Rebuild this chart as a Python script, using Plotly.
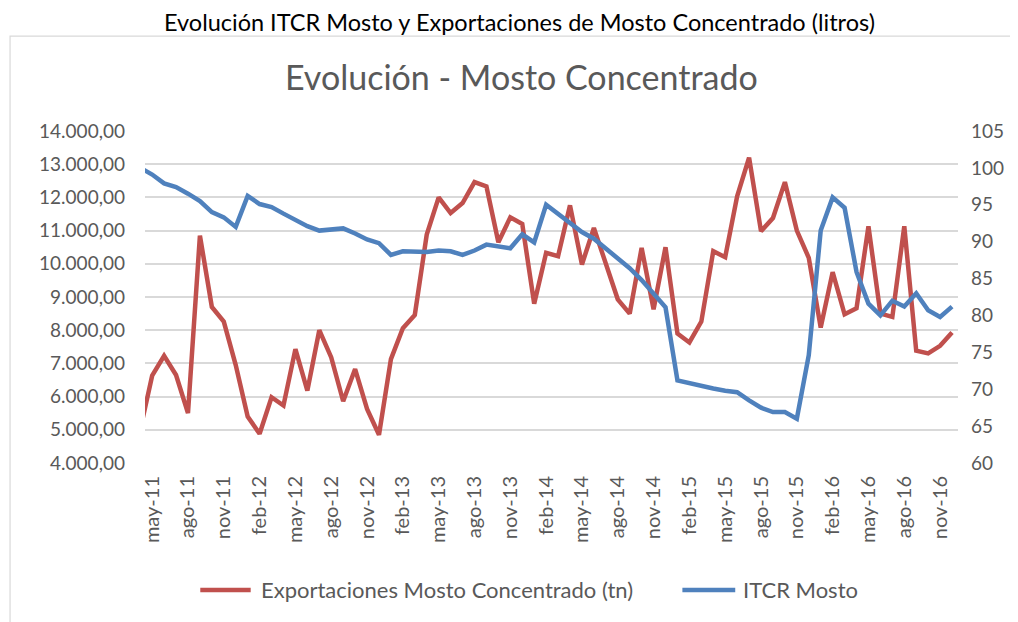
import plotly.graph_objects as go

# Meses abr-11 .. dic-16
abrev = ["ene", "feb", "mar", "abr", "may", "jun", "jul", "ago", "sep", "oct", "nov", "dic"]
meses = []
for anio in range(11, 17):
    for m in abrev:
        meses.append(f"{m}-{anio}")
meses = meses[3:]  # empieza en abr-11

exportaciones = [
    5000, 6630, 7230, 6650, 5500, 10850, 8700, 8260, 6950, 5400,
    4880, 5980, 5730, 7430, 6180, 8000, 7180, 5860, 6830, 5630,
    4850, 7130, 8060, 8460, 10880, 12000, 11530, 11830, 12460, 12330,
    10650, 11400, 11200, 8800, 10330, 10230, 11760, 9980, 11080, 10000,
    8930, 8500, 10480, 8630, 10500, 7900, 7630, 8260, 10380, 10200,
    12030, 13200, 10980, 11380, 12460, 11000, 10180, 8080, 9750, 8480,
    8660, 11130, 8500, 8400, 11130, 7380, 7300, 7530, 7930,
]

itcr = [
    100.0, 99.1, 97.9, 97.4, 96.5, 95.5, 94.0, 93.3, 92.0, 96.2,
    95.1, 94.7, 93.8, 92.9, 92.1, 91.5, 91.7, 91.8, 91.1, 90.3,
    89.8, 88.2, 88.7, 88.7, 88.6, 88.8, 88.7, 88.2, 88.8, 89.6,
    89.3, 89.1, 91.0, 89.9, 95.0, 93.8, 92.6, 91.3, 90.4, 89.0,
    87.6, 86.4, 84.8, 83.0, 81.1, 71.2, 70.8, 70.4, 70.1, 69.8,
    69.6, 68.5, 67.5, 66.9, 66.9, 66.0, 74.6, 91.5, 96.0, 94.6,
    85.9, 81.6, 80.0, 82.0, 81.2, 83.0, 80.7, 79.8, 81.2,
]

etiquetas_x = meses[1::3]  # may-11, ago-11, ... nov-16

series = ["Exportaciones Mosto Concentrado (tn)", "ITCR Mosto"]
colores = ["#C0504D", "#4F81BD"]

gris = "#595959"
fuente = "Lato, Open Sans, sans-serif"

fig = go.Figure()
fig.add_trace(go.Scatter(
    x=meses, y=exportaciones, mode="lines", name=series[0],
    line=dict(color=colores[0], width=4.5), showlegend=False,
))
fig.add_trace(go.Scatter(
    x=meses, y=itcr, mode="lines", yaxis="y2", name=series[1],
    line=dict(color=colores[1], width=4.5), showlegend=False,
))

# leyenda dibujada a mano (linea + texto), como en Excel
leyenda_y = -0.3825
leyenda_x = [(0.068, 0.130, 0.140), (0.661, 0.726, 0.733)]
shapes = [
    dict(type="rect", xref="paper", yref="paper",
         x0=-0.166, x1=1.2, y0=-0.6, y1=1.286,
         line=dict(color="#d9d9d9", width=1.2), layer="below"),
]
annotations = [
    dict(text="Evolución - Mosto Concentrado",
         xref="paper", yref="paper", x=0.4625, y=1.163, showarrow=False,
         xanchor="center", yanchor="middle",
         font=dict(size=34, color=gris, family=fuente)),
]
for nombre, color, (x0, x1, xt) in zip(series, colores, leyenda_x):
    shapes.append(dict(type="line", xref="paper", yref="paper",
                       x0=x0, x1=x1, y0=leyenda_y, y1=leyenda_y,
                       line=dict(color=color, width=4.5)))
    annotations.append(dict(text=nombre, xref="paper", yref="paper",
                            x=xt, y=leyenda_y, showarrow=False,
                            xanchor="left", yanchor="middle",
                            font=dict(size=22, color=gris, family=fuente)))

fig.update_layout(
    width=1018, height=622,
    paper_bgcolor="white", plot_bgcolor="white",
    separators=",.",
    margin=dict(l=137, r=68, t=123, b=167, autoexpand=False),
    font=dict(family=fuente, color=gris, size=19),
    showlegend=False,
    title=dict(
        text="Evolución ITCR Mosto y Exportaciones de Mosto Concentrado (litros)",
        xref="paper", x=0.4606, xanchor="center",
        yref="container", y=0.977, yanchor="middle",
        font=dict(size=23.5, color="black", family=fuente),
    ),
    xaxis=dict(
        type="category", range=[0.4, 68.5], automargin=False,
        tickmode="array", tickvals=etiquetas_x, ticktext=etiquetas_x,
        tickangle=-90, showgrid=False, showline=False, zeroline=False,
        ticks="", ticklabelstandoff=8, tickfont=dict(size=20, color=gris),
    ),
    yaxis=dict(
        range=[4000, 14000], dtick=1000, tickformat=",.2f", automargin=False,
        showgrid=True, gridcolor="#d9d9d9", gridwidth=1.5,
        zeroline=False, showline=False, ticks="", ticklabelstandoff=19,
        tickfont=dict(size=19, color=gris),
    ),
    yaxis2=dict(
        range=[60, 105], dtick=5, overlaying="y", side="right", automargin=False,
        showgrid=False, zeroline=False, showline=False, ticks="",
        ticklabelstandoff=12, tickfont=dict(size=19, color=gris),
    ),
    shapes=shapes,
    annotations=annotations,
)

fig.write_html("out.html")
